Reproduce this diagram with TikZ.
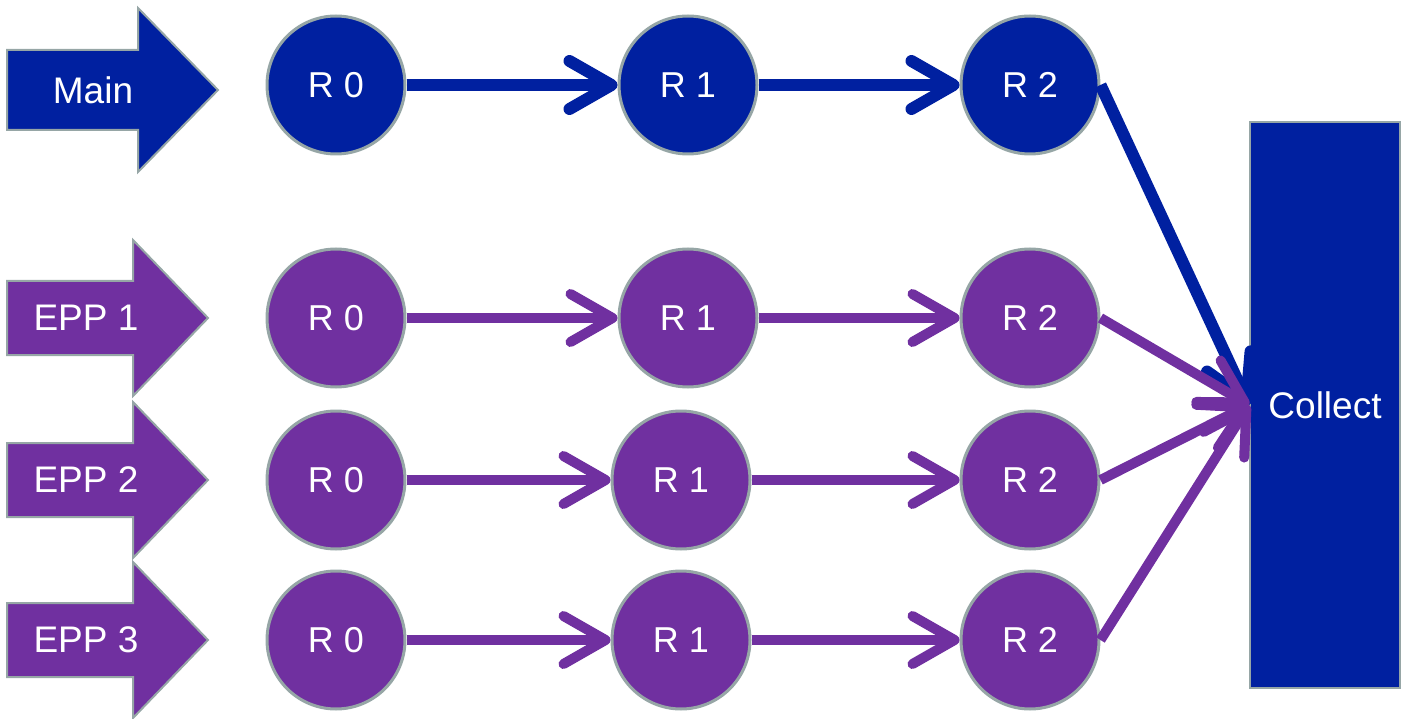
\documentclass[tikz,border=0pt]{standalone}
\usepackage{fontspec}
\setmainfont{Liberation Sans}
\usetikzlibrary{arrows.meta}
\definecolor{mainblue}{RGB}{0,32,160}
\definecolor{epppurple}{RGB}{112,48,160}
\definecolor{rim}{RGB}{150,166,166}
\begin{document}
\begin{tikzpicture}[x=1pt,y=-1pt]
        \tikzstyle{ring}=[circle, draw=rim, line width=3pt, minimum size=138pt, inner sep=0pt, text=white, font=\fontsize{36}{40}\selectfont];
        \tikzstyle{label}=[text=white, font=\fontsize{37}{40}\selectfont];
        \tikzstyle{flow}=[line width=10pt, -{Straight Barb[length=42pt,width=48pt,round]}];
        \useasboundingbox (0,0) rectangle (1408,719);
        % block arrows on the left
        \foreach \name/\y/\lab/\col/\b/\h/\xb/\xt/\xl in {main/90/Main/mainblue/40/82/138/218/93, epp1/318/EPP 1/epppurple/37/78/133/208/86, epp2/480/EPP 2/epppurple/37/78/133/208/86, epp3/640/EPP 3/epppurple/37/78/133/208/86} {
            \filldraw[fill=\col, draw=rim, line width=2pt] (7,\y-\b) -- (\xb,\y-\b) -- (\xb,\y-\h) -- (\xt,\y) -- (\xb,\y+\h) -- (\xb,\y+\b) -- (7,\y+\b) -- cycle;
            \node[label] (\name) at (\xl,\y) {\lab};
        }
        % collector
        \node[draw=rim, line width=2pt, fill=mainblue, minimum width=150pt, minimum height=566pt, label] (collect) at (1325,405) {Collect};
        % rounds
        \foreach \row/\y/\col/\xm/\lw in {m/85/mainblue/688/12, e1/318/epppurple/688/10, e2/480/epppurple/681/10, e3/640/epppurple/681/10} {
            \node[ring, fill=\col] (\row0) at (336,\y) {R 0};
            \node[ring, fill=\col] (\row1) at (\xm,\y) {R 1};
            \node[ring, fill=\col] (\row2) at (1030,\y) {R 2};
            \draw[flow, draw=\col, line width=\lw pt] (\row0) -- (\row1);
            \draw[flow, draw=\col, line width=\lw pt] (\row1) -- (\row2);
            \draw[flow, draw=\col, line width=\lw pt] (\row2.east) -- (collect.west);
        }
\end{tikzpicture}
\end{document}
